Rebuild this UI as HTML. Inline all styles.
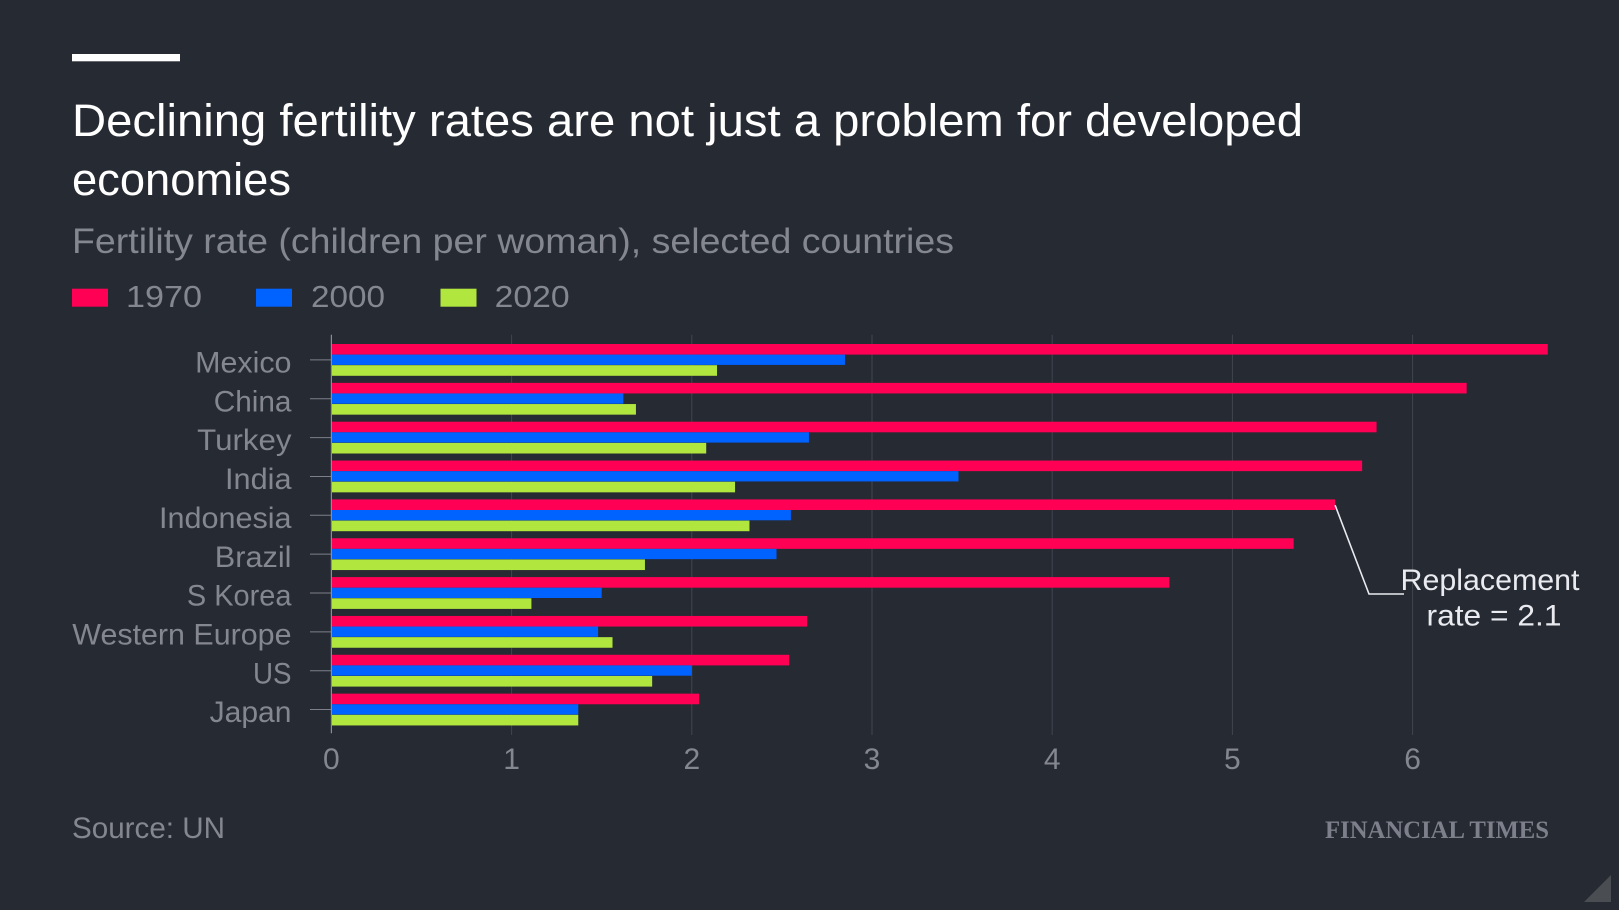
<!DOCTYPE html>
<html lang="en">
<head>
<meta charset="utf-8">
<title>Declining fertility rates</title>
<style>
html,body{margin:0;padding:0;background:#262a33;}
svg{display:block;font-family:"Liberation Sans",sans-serif;}
</style>
</head>
<body>
<svg id="chart" xmlns="http://www.w3.org/2000/svg" width="1619" height="910" viewBox="0 0 1619 910">
  <rect x="0" y="0" width="1619" height="910" fill="#262a33"/>
  <rect x="72" y="54" width="108" height="7.3" fill="#ffffff"/>
  <text x="72" y="136" font-size="45" fill="#ffffff" textLength="1231" lengthAdjust="spacingAndGlyphs">Declining fertility rates are not just a problem for developed</text>
  <text x="72" y="195" font-size="45" fill="#ffffff" textLength="219" lengthAdjust="spacingAndGlyphs">economies</text>
  <text x="72" y="253" font-size="35" fill="#84878f" textLength="882" lengthAdjust="spacingAndGlyphs">Fertility rate (children per woman), selected countries</text>
  <g id="legend"></g>
  <g id="grid"></g>
  <g id="bars"></g>
  <g id="yaxis"></g>
  <g id="xaxis"></g>
  <polyline id="leader" fill="none" stroke="#e9ebf0" stroke-width="1.6"/>
  <text x="1490" y="590" font-size="30" fill="#e9ebf0" text-anchor="middle" textLength="179" lengthAdjust="spacingAndGlyphs">Replacement</text>
  <text x="1494" y="625.5" font-size="30" fill="#e9ebf0" text-anchor="middle" textLength="135" lengthAdjust="spacingAndGlyphs">rate = 2.1</text>
  <text x="72" y="838" font-size="30" fill="#84878f" textLength="153" lengthAdjust="spacingAndGlyphs">Source: UN</text>
  <text x="1325" y="838" font-size="25" font-weight="bold" fill="#7d808a" style="font-family:'Liberation Serif',serif" textLength="224" lengthAdjust="spacingAndGlyphs">FINANCIAL TIMES</text>
  <polygon points="1611,875 1611,902 1584,902" fill="#4a4d52"/>
</svg>
<script>
const categories = ["Mexico","China","Turkey","India","Indonesia","Brazil","S Korea","Western Europe","US","Japan"];
const seriesNames = ["1970","2000","2020"];
const values1970 = [6.75,6.30,5.80,5.72,5.57,5.34,4.65,2.64,2.54,2.04];
const values2000 = [2.85,1.62,2.65,3.48,2.55,2.47,1.50,1.48,2.00,1.37];
const values2020 = [2.14,1.69,2.08,2.24,2.32,1.74,1.11,1.56,1.78,1.37];
const xTickLabels = [0,1,2,3,4,5,6];

const NS = "http://www.w3.org/2000/svg";
const colors = ["#ff0055","#0062ff","#b1e63f"];
const allSeries = [values1970,values2000,values2020];
const x0 = 331.4, xStep = 180.2;
const bandTop = 344, bandStep = 38.85, barH = 10.6;
function xScale(v){ return x0 + v * xStep; }
function yBand(i){ return bandTop + i * bandStep; }
function make(tag, attrs, parent, text){
  const el = document.createElementNS(NS, tag);
  for (const k in attrs) el.setAttribute(k, attrs[k]);
  if (text !== undefined) el.textContent = text;
  parent.appendChild(el);
  return el;
}
const legendG = document.getElementById("legend");
const gridG = document.getElementById("grid");
const barsG = document.getElementById("bars");
const yG = document.getElementById("yaxis");
const xG = document.getElementById("xaxis");

const legendSwatchX = [72,256,440.5];
const legendTextX = [126,311,494.6];
const legendTextW = [76,74,75];
seriesNames.forEach(function(name, i){
  const sw = make("rect", {x:legendSwatchX[i], y:288.7, width:36, height:18, fill:colors[i]}, legendG);
  
  
  const t = make("text", {x:legendTextX[i], y:307, "font-size":31, fill:"#84878f", textLength:legendTextW[i], lengthAdjust:"spacingAndGlyphs"}, legendG, name);
  
  
});

xTickLabels.forEach(function(v){
  if (v !== 0) {
    const g = make("line", {x1:xScale(v), x2:xScale(v), y1:334.7, y2:735, stroke:"#41454e", "stroke-width":1}, gridG);
    
    
  }
  const t = make("text", {x:xScale(v), y:769, "font-size":30, fill:"#84878f", "text-anchor":"middle"}, xG, String(v));
  
  
});

// Rendered label widths, matching the reference typeface's set widths.
const labelTextW = {"Mexico":96.4,"China":77.8,"Turkey":94.3,"India":66.5,"Indonesia":132.5,"Brazil":76.7,"S Korea":104.6,"Western Europe":219.2,"US":38.5,"Japan":81.9};

categories.forEach(function(cat, i){
  allSeries.forEach(function(series, s){
    const b = make("rect", {x:x0 + 0.6, y:yBand(i) + s * barH, width:xScale(series[i]) - x0 - 0.6, height:barH - (s === 1 ? 0.3 : 0), fill:colors[s]}, barsG);
    
    
  });
  const cy = yBand(i) + barH * 1.5;
  const tick = make("line", {x1:310, x2:331, y1:cy, y2:cy, stroke:"#7d808a", "stroke-width":1}, yG);
  
  
  const labelAttrs = {x:291.5, y:cy + 12.6, "font-size":30, fill:"#84878f", "text-anchor":"end", lengthAdjust:"spacingAndGlyphs"};
  if (labelTextW[cat]) labelAttrs.textLength = labelTextW[cat];
  const label = make("text", labelAttrs, yG, cat);
  
  
});

const axisLine = make("line", {x1:x0, x2:x0, y1:334.7, y2:733.3, stroke:"#8a8d94", "stroke-width":1.2}, yG);



const idx = categories.indexOf("Indonesia");
document.getElementById("leader").setAttribute("points",
  xScale(values1970[idx]) + "," + (yBand(idx) + barH * 0.5 + 0.5) + " 1369,594 1404,594");
</script>
</body>
</html>
